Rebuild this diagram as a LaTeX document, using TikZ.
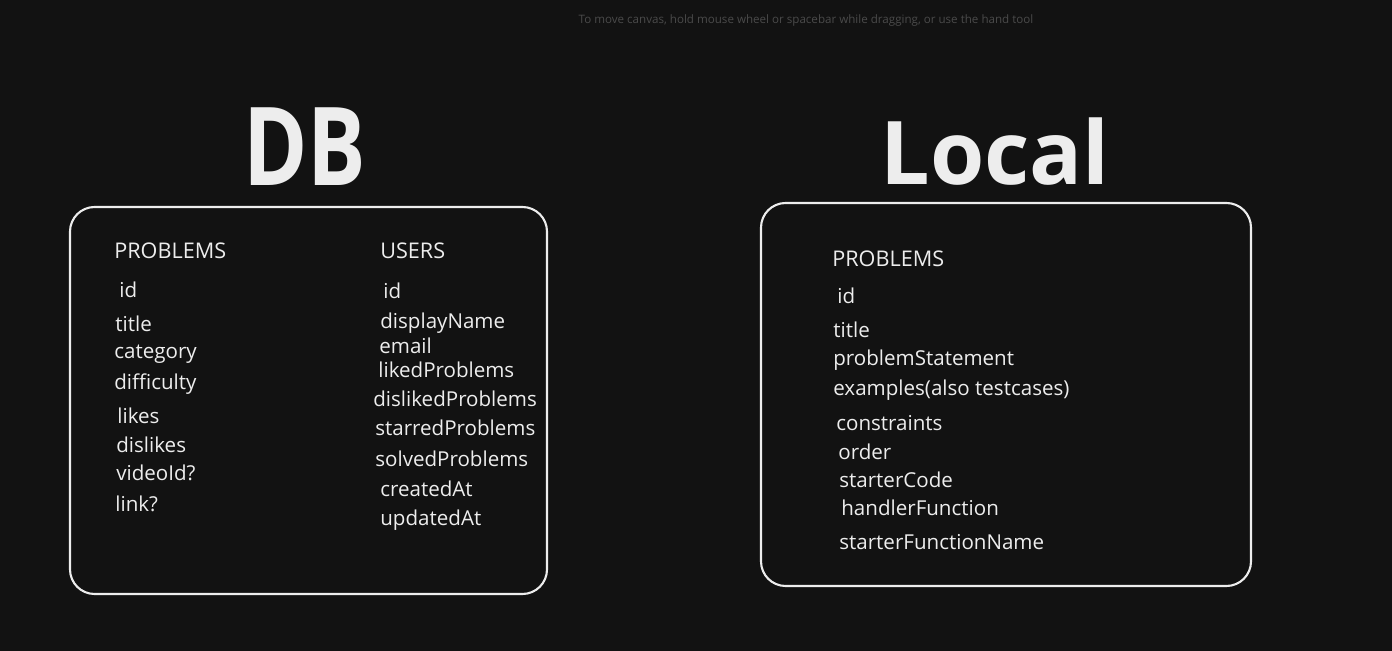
\documentclass[tikz,border=0pt]{standalone}
\usepackage{fontspec}
\setmainfont{Open Sans}
\newfontfamily\titlefont{Open Sans}
\usetikzlibrary{positioning}

\definecolor{canvas}{HTML}{121212}
\definecolor{chalk}{HTML}{EDEDED}
\definecolor{hintgray}{HTML}{4A4A4A}

\begin{document}
\begin{tikzpicture}[
  x=0.02cm, y=-0.02cm,
  field/.style={anchor=west, inner sep=0pt, text=chalk, font=\fontsize{11.7}{14}\selectfont},
  header/.style={field, font=\fontsize{12.3}{14}\selectfont},
  bigtitle/.style={inner sep=0pt, text=chalk, font=\titlefont\bfseries\fontsize{62}{70}\selectfont},
  tablebox/.style={draw=chalk, line width=1.2pt, rounded corners=14pt},
  hint/.style={inner sep=0pt, text=hintgray, font=\fontsize{6.6}{8}\selectfont}
]

% canvas, fixes the page size
\fill[canvas] (0,0) rectangle (1392,651);

% --- hint on top ---
\node[hint] (hint) at (806,20) {To move canvas, hold mouse wheel or spacebar while dragging, or use the hand tool};

% --- titles ---
\node[bigtitle, xscale=0.8] (dbtitle) at (305,147) {DB};
\node[bigtitle, font=\titlefont\bfseries\fontsize{50}{60}\selectfont] (localtitle) at (995,152) {Local};

% --- boxes ---
\draw[tablebox] (70,207) rectangle (547,594);
\draw[tablebox] (761,203) rectangle (1251,586);

% --- DB: problems table ---
\node[header] (dbprob) at (114,251) {PROBLEMS};
\node[field] (pid)   at (119,290) {id};
\node[field] (ptitle) at (115,324) {title};
\node[field] (pcat)  at (114,354) {category};
\node[field] (pdiff) at (114,384) {difficulty};
\node[field] (plike) at (117,416) {likes};
\node[field] (pdis)  at (116,445) {dislikes};
\node[field] (pvid)  at (116,473) {videoId?};
\node[field] (plink) at (115,504) {link?};

% --- DB: users table ---
\node[header] (dbusers) at (380,251) {USERS};
\node[field] (uid)     at (383,291) {id};
\node[field] (uname)   at (380,323) {displayName};
\node[field] (umail)   at (379,346) {email};
\node[field] (uliked)  at (378,370) {likedProblems};
\node[field] (udis)    at (373,399) {dislikedProblems};
\node[field] (ustar)   at (375,428) {starredProblems};
\node[field] (usolved) at (375,459) {solvedProblems};
\node[field] (ucreate) at (380,489) {createdAt};
\node[field] (uupdate) at (380,520) {updatedAt};

% --- Local: problems ---
\node[header] (locprob) at (832,259) {PROBLEMS};
\node[field] (lid)      at (837,296) {id};
\node[field] (ltitle)   at (833,330) {title};
\node[field] (lstate)   at (833,360) {problemStatement};
\node[field] (lex)      at (833,390) {examples(also testcases)};
\node[field] (lcons)    at (836,423) {constraints};
\node[field] (lorder)   at (838,452) {order};
\node[field] (lcode)    at (839,480) {starterCode};
\node[field] (lhandler) at (841,508) {handlerFunction};
\node[field] (lfname)   at (839,542) {starterFunctionName};

\end{tikzpicture}
\end{document}
